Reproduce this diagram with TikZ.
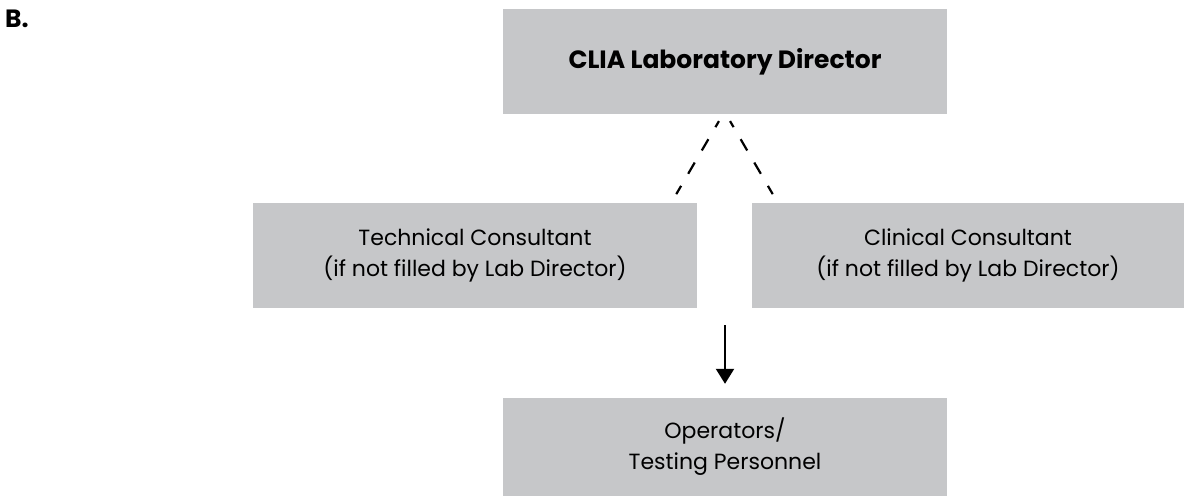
\documentclass[tikz,border=0pt]{standalone}
\usepackage{fontspec}
\setmainfont{Poppins}
\usetikzlibrary{arrows.meta}
\definecolor{boxgray}{RGB}{198,199,201}
\tikzset{
    box/.style={fill=boxgray,inner sep=0pt,align=center,minimum height=105pt,
        font=\fontsize{22}{31}\selectfont},
    dashline/.style={line width=2.2pt,dash pattern=on 13pt off 14pt,dash phase=6pt,
        shorten <=8pt,shorten >=10pt}
}
\begin{document}
\begin{tikzpicture}[>={Triangle[width=18pt,length=15pt]},x=1pt,y=-1pt]
    \useasboundingbox (0,0) rectangle (1184,496);
    \node[anchor=west,inner sep=0pt,font=\fontsize{25}{28}\selectfont\bfseries] at (5,19) (lbl) {B.};
    \node[box,minimum width=444pt,font=\fontsize{25}{30}\selectfont\bfseries] at (725,61.5) (dir) {CLIA Laboratory Director};
    \node[box,minimum width=444pt] at (475,255.5) (tech) {Technical Consultant\\(if not filled by Lab Director)};
    \node[box,minimum width=432pt] at (968,255.5) (clin) {Clinical Consultant\\(if not filled by Lab Director)};
    \node[box,minimum width=444pt,minimum height=98pt] at (725,447) (oper) {Operators/\\Testing Personnel};
    \coordinate (split) at (725,325);%giữa hai ô
    \draw[dashline] ([xshift=-2pt]dir.south) -- ([xshift=-26pt]tech.north east);
    \draw[dashline] ([xshift=1pt]dir.south) -- ([xshift=26pt]clin.north west);
    \draw[->,line width=2.2pt,shorten >=14pt] (split) -- (oper);
\end{tikzpicture}
\end{document}
